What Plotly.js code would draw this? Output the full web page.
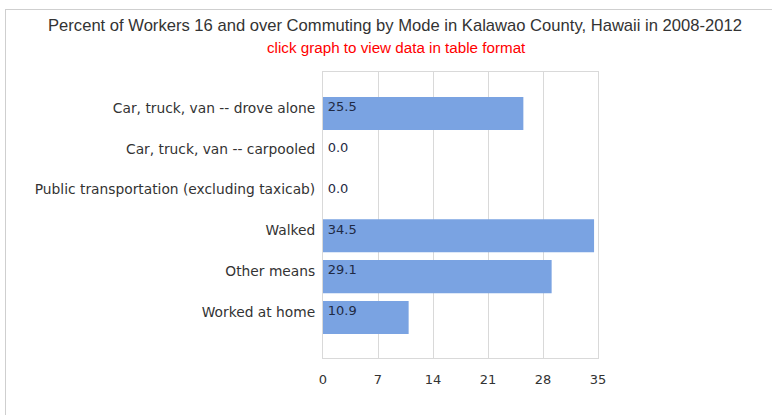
<!DOCTYPE html>
<html>
<head>
<meta charset="utf-8">
<script src="https://cdn.plot.ly/plotly-3.0.1.min.js"></script>
<style>
html,body{margin:0;padding:0;background:#fff;overflow:hidden;}
#frame{position:absolute;left:5px;top:9px;width:900px;height:600px;border-left:1px solid #cfcfcf;border-top:1px solid #cfcfcf;}
#chart{position:absolute;left:0;top:0;width:772px;height:415px;}
</style>
</head>
<body>
<div id="frame"></div>
<div id="chart"></div>
<script>
const categories = [
  "Car, truck, van -- drove alone",
  "Car, truck, van -- carpooled",
  "Public transportation (excluding taxicab)",
  "Walked",
  "Other means",
  "Worked at home"
];
const values = [25.5, 0.0, 0.0, 34.5, 29.1, 10.9];
const valueLabels = values.map(v => v.toFixed(1));
const xTicks = [0, 7, 14, 21, 28, 35];

const bars = {
  type: 'bar',
  orientation: 'h',
  y: categories,
  x: values,
  width: 0.81,
  offset: -0.27,
  marker: {color: '#7aa3e2', line: {width: 0}},
  hoverinfo: 'x+y'
};
const labels = {
  type: 'scatter',
  mode: 'text',
  y: categories,
  x: values.map(() => 0.6),
  text: valueLabels,
  textposition: 'middle right',
  textfont: {family: 'DejaVu Sans', size: 13, color: '#1f2a44'},
  cliponaxis: false,
  hoverinfo: 'skip'
};

const layout = {
  width: 772, height: 415,
  margin: {l: 323, r: 174, t: 72, b: 57, pad: 0},
  paper_bgcolor: 'rgba(0,0,0,0)',
  plot_bgcolor: '#ffffff',
  showlegend: false,
  title: {
    text: 'Percent of Workers 16 and over Commuting by Mode in Kalawao County, Hawaii in 2008-2012',
    font: {family: 'Liberation Sans, Arial', size: 16.6, color: '#333333'},
    xref: 'container', x: 395/772, xanchor: 'center',
    yref: 'container', y: (415-25)/415, yanchor: 'middle'
  },
  annotations: [{
    text: 'click graph to view data in table format',
    font: {family: 'Liberation Sans, Arial', size: 15.2, color: '#ff0000'},
    xref: 'paper', yref: 'paper',
    x: (396-323)/275, y: (358-48)/286,
    xanchor: 'center', yanchor: 'middle', showarrow: false
  }],
  xaxis: {
    range: [0, 35],
    tickvals: xTicks,
    ticktext: xTicks.map(String),
    showgrid: true, gridcolor: '#d9d9d9', gridwidth: 1,
    zeroline: false,
    showline: true, linecolor: '#d9d9d9', mirror: true,
    ticks: '',
    ticklabelstandoff: 9,
    tickfont: {family: 'DejaVu Sans', size: 13, color: '#333333'},
    fixedrange: true
  },
  yaxis: {
    type: 'category',
    categoryorder: 'array', categoryarray: categories,
    range: [6.13, -0.88],
    showgrid: false, zeroline: false,
    showline: true, linecolor: '#d9d9d9', mirror: true,
    ticks: '',
    ticklabelstandoff: 4,
    tickfont: {family: 'DejaVu Sans', size: 13.8, color: '#333333'},
    fixedrange: true
  },
  bargap: 0.19
};

Plotly.newPlot('chart', [bars, labels], layout, {displayModeBar: false, staticPlot: true});
</script>
</body>
</html>
